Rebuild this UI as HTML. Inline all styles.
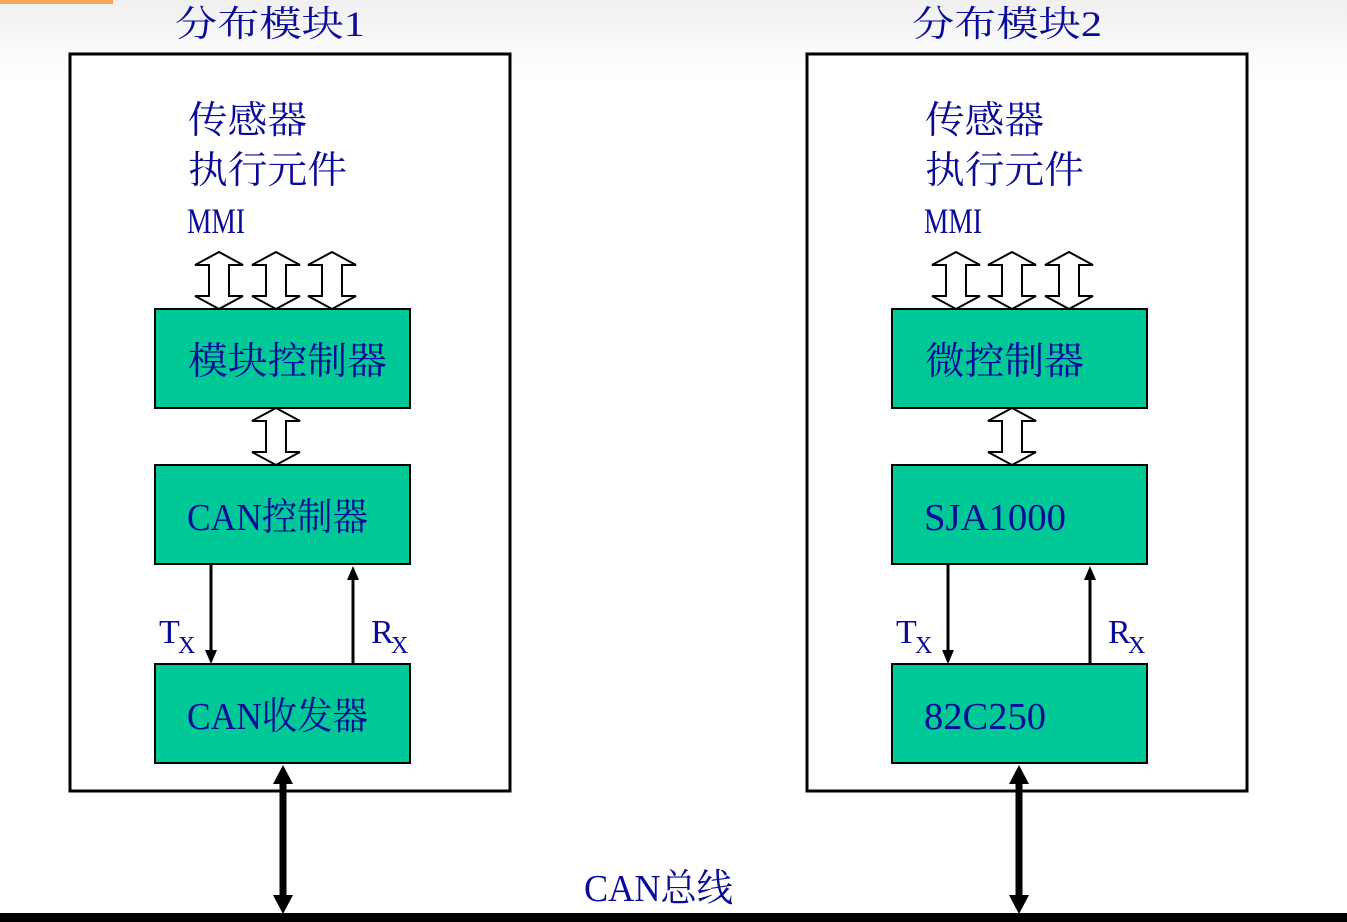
<!DOCTYPE html>
<html><head><meta charset="utf-8"><style>
html,body{margin:0;padding:0;}
body{width:1347px;height:922px;overflow:hidden;background:linear-gradient(#efefef 0px,#fafafa 50px,#fff 80px);}
svg{display:block}
text{font-family:"Liberation Serif","Noto Serif CJK SC",serif;fill:#0a0a99;}
</style></head><body>
<svg width="1347" height="922" viewBox="0 0 1347 922" xmlns="http://www.w3.org/2000/svg">
<defs>
<g id="ha"><path d="M0,0 L24,13 L10,13 L10,44 L24,44 L0,57 L-24,44 L-10,44 L-10,13 L-24,13 Z" fill="#fff" stroke="#000" stroke-width="2"/></g>
</defs>
<rect x="0" y="0" width="113" height="4" fill="#f7a35c"/>

<!-- module 1 -->
<text x="175" y="36" font-size="36" textLength="190" lengthAdjust="spacingAndGlyphs">分布模块1</text>
<rect x="70" y="54" width="440" height="737" fill="#fff" stroke="#000" stroke-width="3"/>
<text x="188" y="133" font-size="38" textLength="119" lengthAdjust="spacingAndGlyphs">传感器</text>
<text x="188" y="183" font-size="38" textLength="159" lengthAdjust="spacingAndGlyphs">执行元件</text>
<text x="187" y="233" font-size="36" textLength="58" lengthAdjust="spacingAndGlyphs">MMI</text>
<use href="#ha" x="219" y="252"/><use href="#ha" x="276" y="252"/><use href="#ha" x="332" y="252"/>
<rect x="155" y="309" width="255" height="99" fill="#00c896" stroke="#000" stroke-width="2"/>
<text x="188" y="374" font-size="38" textLength="199" lengthAdjust="spacingAndGlyphs">模块控制器</text>
<use href="#ha" x="276" y="408"/>
<rect x="155" y="465" width="255" height="99" fill="#00c896" stroke="#000" stroke-width="2"/>
<text x="187" y="530" font-size="38" textLength="181" lengthAdjust="spacingAndGlyphs">CAN控制器</text>
<rect x="155" y="664" width="255" height="99" fill="#00c896" stroke="#000" stroke-width="2"/>
<text x="187" y="729" font-size="38" textLength="181" lengthAdjust="spacingAndGlyphs">CAN收发器</text>
<line x1="211" y1="564" x2="211" y2="652" stroke="#000" stroke-width="3"/>
<path d="M205,650 L217,650 L211,664 Z" fill="#000"/>
<line x1="353" y1="664" x2="353" y2="578" stroke="#000" stroke-width="3"/>
<path d="M347,580 L359,580 L353,566 Z" fill="#000"/>
<text x="159" y="643" font-size="34">T</text><text x="178" y="653" font-size="24">X</text>
<text x="371" y="643" font-size="34">R</text><text x="391" y="653" font-size="24">X</text>
<line x1="283" y1="780" x2="283" y2="898" stroke="#000" stroke-width="7"/>
<path d="M273,784 L293,784 L283,765 Z" fill="#000"/>
<path d="M273,895 L293,895 L283,914 Z" fill="#000"/>

<!-- module 2 -->
<text x="912" y="36" font-size="36" textLength="190" lengthAdjust="spacingAndGlyphs">分布模块2</text>
<rect x="807" y="54" width="440" height="737" fill="#fff" stroke="#000" stroke-width="3"/>
<text x="925" y="133" font-size="38" textLength="119" lengthAdjust="spacingAndGlyphs">传感器</text>
<text x="925" y="183" font-size="38" textLength="159" lengthAdjust="spacingAndGlyphs">执行元件</text>
<text x="924" y="233" font-size="36" textLength="58" lengthAdjust="spacingAndGlyphs">MMI</text>
<use href="#ha" x="956" y="252"/><use href="#ha" x="1012" y="252"/><use href="#ha" x="1069" y="252"/>
<rect x="892" y="309" width="255" height="99" fill="#00c896" stroke="#000" stroke-width="2"/>
<text x="925" y="374" font-size="38" textLength="159" lengthAdjust="spacingAndGlyphs">微控制器</text>
<use href="#ha" x="1012" y="408"/>
<rect x="892" y="465" width="255" height="99" fill="#00c896" stroke="#000" stroke-width="2"/>
<text x="924" y="530" font-size="38" textLength="142" lengthAdjust="spacingAndGlyphs">SJA1000</text>
<rect x="892" y="664" width="255" height="99" fill="#00c896" stroke="#000" stroke-width="2"/>
<text x="924" y="729" font-size="38" textLength="122" lengthAdjust="spacingAndGlyphs">82C250</text>
<line x1="948" y1="564" x2="948" y2="652" stroke="#000" stroke-width="3"/>
<path d="M942,650 L954,650 L948,664 Z" fill="#000"/>
<line x1="1090" y1="664" x2="1090" y2="578" stroke="#000" stroke-width="3"/>
<path d="M1084,580 L1096,580 L1090,566 Z" fill="#000"/>
<text x="896" y="643" font-size="34">T</text><text x="915" y="653" font-size="24">X</text>
<text x="1108" y="643" font-size="34">R</text><text x="1128" y="653" font-size="24">X</text>
<line x1="1019" y1="780" x2="1019" y2="898" stroke="#000" stroke-width="7"/>
<path d="M1009,784 L1029,784 L1019,765 Z" fill="#000"/>
<path d="M1009,895 L1029,895 L1019,914 Z" fill="#000"/>

<!-- bus -->
<text x="584" y="901" font-size="38" textLength="149" lengthAdjust="spacingAndGlyphs">CAN总线</text>
<rect x="0" y="913" width="1347" height="9" fill="#000"/>
</svg>
</body></html>
